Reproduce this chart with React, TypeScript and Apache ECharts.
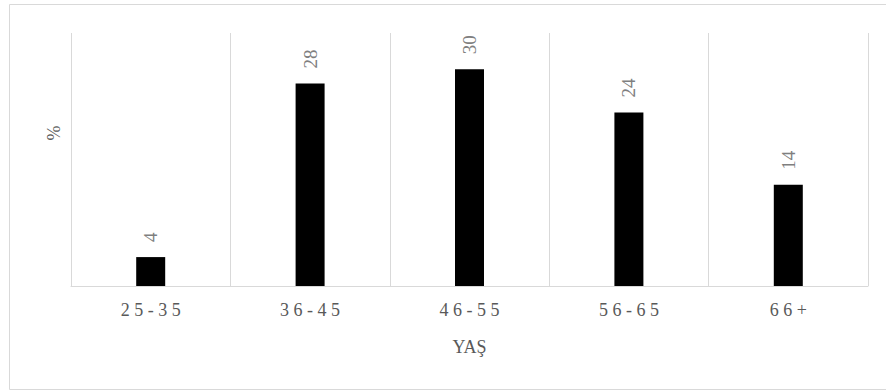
import React, { useEffect, useRef } from "react";
import * as echarts from "echarts";

// Age groups and their share (%)
const ageGroups = ["25-35", "36-45", "46-55", "56-65", "66+"];
const shares = [4, 28, 30, 24, 14];

const xAxisTitle = "YAŞ";
const yAxisTitle = "%";

const GRID_COLOR = "#d9d9d9";
const TEXT_COLOR = "#595959";
const SERIF = "Times New Roman, Liberation Serif, serif";

export default function App() {
  const ref = useRef<HTMLDivElement>(null);

  useEffect(() => {
    if (!ref.current) return;
    const chart = echarts.init(ref.current, undefined, { renderer: "svg" });
    chart.setOption({
      animation: false,
      backgroundColor: "#ffffff",
      textStyle: { fontFamily: SERIF },
      grid: { left: 71, right: 18, top: 33, bottom: 106 },
      graphic: [
        {
          type: "rect",
          shape: { x: 9.5, y: 4.5, width: 884, height: 385 },
          style: { fill: "none", stroke: GRID_COLOR, lineWidth: 1 },
          silent: true,
        },
        {
          type: "text",
          x: 54,
          y: 133,
          rotation: Math.PI / 2,
          style: {
            text: yAxisTitle,
            fill: TEXT_COLOR,
            font: "18px serif",
            align: "center",
            verticalAlign: "middle",
          },
        },
      ],
      xAxis: {
        type: "category",
        data: ageGroups,
        name: xAxisTitle,
        nameLocation: "middle",
        nameGap: 52,
        nameTextStyle: { color: TEXT_COLOR, fontFamily: "serif", fontSize: 18 },
        axisLine: { show: true, lineStyle: { color: GRID_COLOR, width: 1 } },
        axisTick: { show: false },
        axisLabel: {
          color: TEXT_COLOR,
          fontFamily: "serif",
          fontSize: 18,
          margin: 15,
          formatter: (v: string) => v.split("").join(" "),
        },
        splitLine: { show: true, lineStyle: { color: GRID_COLOR, width: 1 } },
      },
      yAxis: {
        type: "value",
        min: 0,
        max: 35,
        axisLine: { show: false },
        axisTick: { show: false },
        axisLabel: { show: false },
        splitLine: { show: false },
      },
      series: [
        {
          type: "bar",
          data: shares,
          barWidth: 29,
          itemStyle: { color: "#000000" },
          label: {
            show: true,
            position: "top",
            rotate: 90,
            align: "left",
            verticalAlign: "middle",
            distance: 15,
            color: "#7f7f7f",
            fontFamily: "serif",
            fontSize: 19,
          },
        },
      ],
    });
    return () => chart.dispose();
  }, []);

  return (
    <div
      ref={ref}
      style={{ position: "fixed", left: 0, top: 0, width: 886, height: 392 }}
    />
  );
}
